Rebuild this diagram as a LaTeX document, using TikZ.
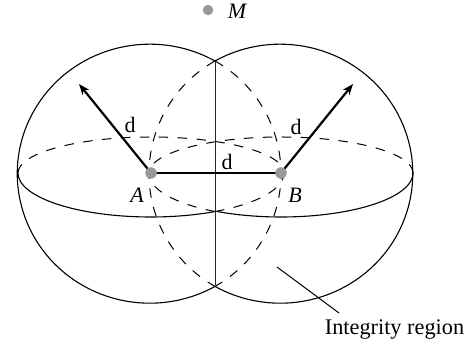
\documentclass[tikz,border=0pt]{standalone}
\usepackage{fontspec}
\setmainfont{Liberation Serif}
\usetikzlibrary{arrows.meta}
\tikzset{
  outline/.style={line width=1.1pt,black},
  hidden/.style={line width=1pt,black,dash pattern=on 9.5pt off 9.45pt},
  thickline/.style={line width=2.2pt,black},
  ray/.style={thickline,-{Stealth[length=11pt,width=8.5pt]}},
  dot/.style={circle,fill=black!40,draw=none,inner sep=0pt,minimum size=11.5pt},
  lab/.style={inner sep=0pt,font=\fontsize{22}{22}\selectfont},
  ital/.style={inner sep=0pt,font=\fontsize{22}{22}\selectfont\itshape}
}
\begin{document}
\begin{tikzpicture}[x=1pt,y=1pt]
\useasboundingbox (0,0) rectangle (473,344);
\coordinate (cA) at (151,171);
\coordinate (cB) at (281,171);
\coordinate (top) at (215,283);
\coordinate (bot) at (215,59);
\coordinate (endA) at (79,260);
\coordinate (endB) at (353,260);
\coordinate (leadS) at (277,77);
\coordinate (leadE) at (339,31);
% outer outlines
\draw[outline] (top) arc[start angle=60.5,end angle=299.5,x radius=132.5,y radius=129.5];
\draw[outline] (top) arc[start angle=119.5,end angle=-119.5,x radius=132.5,y radius=129.5];
% inner hidden arcs
\draw[hidden] (top) arc[start angle=60.5,end angle=-60.5,x radius=130,y radius=129.5];
\draw[hidden] (top) arc[start angle=119.5,end angle=240.5,x radius=130,y radius=129.5];
% equators
\draw[outline] (18,171) arc[start angle=180,end angle=298.8,x radius=133,y radius=44];
\draw[outline] (413,171) arc[start angle=0,end angle=-118.8,x radius=132,y radius=44];
\draw[hidden] (18,171) arc[start angle=180,end angle=0,x radius=133,y radius=36];
\draw[hidden] (413,171) arc[start angle=0,end angle=180,x radius=132,y radius=36];
\draw[hidden] (215,132.5) arc[start angle=-61.2,end angle=0,x radius=133,y radius=44];
\draw[hidden] (215,132.5) arc[start angle=240,end angle=180,x radius=132,y radius=44];
% vertical
\draw[line width=1pt,black!85] (top) -- (bot);
% radii
\draw[ray] (cA) -- (endA);
\draw[ray] (cB) -- (endB);
\draw[thickline] (cA) -- (cB);
\node[dot] (A) at (cA) {};
\node[dot] (B) at (cB) {};
\node[dot,minimum size=10.5pt] (M) at (208,334) {};
\node[ital] (labM) at (237,333) {M};
\node[ital] (labA) at (137,149) {A};
\node[ital] (labB) at (295,149) {B};
\node[lab] (d1) at (130,219) {d};
\node[lab] (d2) at (296,217) {d};
\node[lab] (d3) at (227,182) {d};
\draw[line width=1pt] (leadS) -- (leadE);
\node[inner sep=0pt,font=\fontsize{22.3}{22.3}\selectfont] (reg) at (394.5,14) {Integrity region};
\end{tikzpicture}
\end{document}
